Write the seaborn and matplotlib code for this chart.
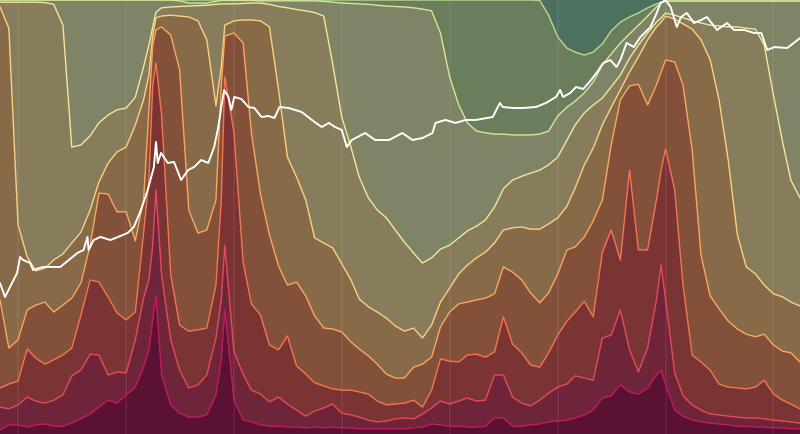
import numpy as np
import pandas as pd
import matplotlib
matplotlib.use("Agg")
import matplotlib.pyplot as plt
import seaborn as sns

# ---- dates: month starts plus a few extra readings around the peaks ----
monthly = pd.date_range("2011-11-01", "2019-04-01", freq="MS")
extra = pd.to_datetime(["2013-03-19", "2013-04-12", "2013-11-19", "2017-12-17"])
dates = monthly.append(extra).sort_values()

# ---- realized-cap share (%) OLDER than each age threshold ----
older_3y = [0] * 60 + [
    0, 0, 0, 0.1, 3.5, 8.5, 11.1, 12.0, 12.7, 12.0,
    10.1, 7.1, 5.1, 3.9, 3.0, 1.8, 0.9, 0.5, 0.2, 0.2,
    0.2, 0.2, 0.2, 0.2, 0.2, 0.2, 0.2, 0.2, 0.2, 0.2,
    0.2, 0.2, 0.2, 0.2]
older_2y = [0] * 20 + [
    0, 0, 0.2, 0.7, 0.7, 0.7, 0.3, 0.1, 0.1, 0.1,
    0.1, 0.1, 0.2, 0.2, 0.2, 0.2, 0.2, 0.2, 0.2, 0.3,
    0.5, 0.7, 0.8, 0.9, 1.0, 1.2, 1.4, 1.5, 1.6, 1.8,
    2.1, 2.5, 7.6, 17.7, 24.2, 28.3, 30.2, 30.6, 30.9, 30.9,
    31.1, 31.1, 31.1, 30.9, 30.2, 26.7, 24.7, 23.3, 21.4, 18.9,
    15.0, 12.4, 9.9, 7.8, 5.8, 3.7, 1.6, 0.7, 0.3, 0.25,
    0.25, 0.25, 0.25, 0.25, 0.25, 0.25, 0.25, 0.25, 0.25, 0.25,
    0.25, 0.25, 0.25, 0.25]
older_1y = [
    0.5, 0.5, 0.5, 0.5, 0.5, 0.6, 1.0, 5.8, 33.9, 33.4,
    31.3, 28.3, 26.5, 25.3, 24.9, 22.4, 15.4, 10.4, 6.2, 2.8,
    1.8, 1.6, 1.5, 1.4, 1.3, 1.2, 1.0, 0.9, 0.9, 0.9,
    0.8, 0.7, 0.7, 1.0, 1.5, 1.8, 2.2, 2.5, 2.9, 3.7,
    14.7, 27.0, 33.9, 40.8, 45.6, 48.4, 50.2, 53.0, 55.8, 58.3,
    60.6, 59.4, 57.4, 56.5, 54.8, 53.2, 52.1, 50.7, 47.7, 43.5,
    41.5, 40.6, 39.9, 39.2, 38.0, 36.2, 32.3, 28.8, 26.0, 24.2,
    22.6, 20.0, 17.3, 13.4, 10.4, 7.6, 5.1, 4.1, 3.0, 3.5,
    4.1, 4.8, 5.3, 5.8, 6.0, 6.2, 6.2, 6.5, 6.7, 10.4,
    21.9, 32.7, 41.5, 45.6]
older_6m = [
    1.6, 6.5, 51.8, 59.2, 62.4, 61.8, 59.9, 58.5, 56.0, 53.5,
    48.4, 41.9, 37.6, 35.0, 33.9, 28.8, 23.0, 17.3, 8.1, 4.1,
    3.7, 3.5, 3.7, 3.9, 4.8, 9.2, 24.4, 15.4, 5.8, 4.8,
    4.6, 4.6, 4.8, 6.2, 20.7, 36.2, 40.8, 46.1, 54.8, 56.0,
    57.1, 60.8, 64.5, 68.9, 70.7, 71.9, 73.3, 75.1, 76.3, 75.6,
    77.9, 74.9, 69.6, 66.4, 63.1, 61.1, 59.4, 58.1, 56.0, 53.0,
    52.5, 52.3, 52.8, 52.8, 51.6, 50.2, 47.5, 43.3, 38.0, 34.1,
    28.8, 24.7, 20.7, 16.6, 13.1, 9.2, 6.2, 5.1, 3.7, 4.4,
    5.5, 6.7, 9.2, 13.8, 23.0, 36.9, 54.1, 61.5, 63.1, 65.7,
    67.7, 68.4, 69.6, 70.5]
older_3m = [
    69.1, 80.2, 78.3, 71.4, 70.3, 69.6, 71.9, 70.3, 68.7, 65.2,
    56.5, 44.5, 44.7, 48.8, 48.8, 55.5, 46.1, 25.3, 10.4, 6.9,
    6.2, 8.1, 16.1, 48.4, 53.7, 53.0, 46.1, 19.6, 8.3, 7.6,
    9.9, 30.6, 44.9, 54.1, 61.3, 65.7, 65.0, 68.2, 72.8, 75.6,
    75.8, 76.5, 78.8, 80.4, 82.0, 83.9, 86.2, 87.1, 87.1, 84.6,
    83.9, 82.3, 75.3, 71.9, 70.0, 69.6, 69.1, 68.7, 67.7, 61.5,
    62.7, 64.5, 67.5, 69.8, 67.5, 63.1, 57.6, 56.9, 54.6, 50.9,
    46.1, 33.4, 23.0, 19.8, 19.4, 24.2, 19.6, 16.6, 13.8, 14.3,
    19.6, 34.6, 58.8, 68.2, 71.2, 74.0, 75.8, 77.0, 77.6, 77.0,
    79.5, 80.9, 81.3, 83.4]
older_1m = [
    89.4, 88.5, 87.8, 80.4, 82.5, 83.9, 82.9, 81.8, 80.2, 72.6,
    64.5, 65.0, 68.4, 72.1, 73.7, 71.9, 53.7, 41.5, 19.6, 14.5,
    26.5, 63.4, 74.9, 76.3, 76.0, 75.6, 65.7, 46.1, 17.7, 30.6,
    60.4, 70.0, 72.6, 79.5, 80.6, 77.4, 84.3, 86.2, 88.2, 88.9,
    89.6, 89.9, 89.9, 90.3, 90.8, 92.4, 93.3, 93.1, 92.9, 92.2,
    93.8, 89.9, 82.7, 83.2, 83.4, 81.8, 81.6, 82.3, 81.1, 73.0,
    79.3, 81.3, 84.1, 84.6, 81.3, 77.2, 74.0, 71.9, 69.4, 73.0,
    58.1, 53.0, 59.9, 39.2, 57.6, 57.6, 46.1, 39.2, 34.3, 43.8,
    65.7, 81.8, 83.4, 85.3, 88.5, 89.2, 89.4, 89.6, 89.2, 87.6,
    90.8, 92.2, 93.1, 94.2]
older_1w = [
    93.8, 94.2, 93.3, 91.5, 92.4, 92.9, 92.2, 91.0, 86.6, 85.3,
    81.6, 81.8, 86.4, 85.7, 85.9, 78.3, 68.7, 64.5, 56.5, 43.8,
    63.4, 78.3, 85.3, 89.4, 88.7, 86.4, 77.9, 69.1, 56.5, 81.1,
    86.2, 89.9, 90.8, 92.6, 91.5, 93.1, 94.5, 95.9, 94.7, 94.0,
    93.1, 95.2, 95.6, 96.1, 96.8, 97.2, 97.0, 96.5, 96.3, 96.5,
    95.4, 94.0, 92.4, 93.1, 92.4, 91.7, 92.4, 92.2, 86.4, 86.4,
    91.5, 92.9, 93.5, 92.2, 90.6, 89.2, 88.5, 86.6, 87.1, 87.6,
    77.9, 77.2, 71.4, 80.6, 85.7, 80.2, 69.1, 61.1, 69.1, 85.9,
    91.2, 93.3, 94.5, 95.4, 95.6, 95.9, 96.1, 96.3, 96.3, 96.5,
    96.8, 97.0, 97.2, 97.5]
older_1d = [
    99.1, 97.9, 97.9, 98.4, 97.9, 97.7, 98.2, 98.2, 97.5, 96.5,
    95.4, 93.8, 92.2, 92.9, 91.0, 89.2, 84.6, 80.6, 73.7, 68.0,
    86.4, 93.3, 95.2, 96.1, 96.1, 95.6, 91.0, 82.9, 71.4, 92.2,
    96.8, 97.2, 97.9, 98.2, 98.2, 98.4, 98.4, 98.6, 98.4, 98.6,
    98.4, 98.6, 98.6, 98.8, 98.8, 98.8, 98.8, 98.8, 98.8, 98.6,
    98.4, 97.7, 97.9, 98.2, 98.2, 98.4, 98.4, 98.2, 96.3, 96.3,
    98.2, 98.2, 97.9, 97.7, 97.2, 97.0, 96.8, 96.3, 95.6, 94.5,
    91.7, 91.2, 88.7, 90.3, 90.8, 89.4, 86.4, 85.3, 88.7, 94.5,
    95.9, 96.8, 97.2, 97.5, 97.7, 97.9, 98.2, 98.2, 98.4, 98.4,
    98.6, 98.6, 98.8, 98.8]

# ---- BTC price (USD, log scale), read at days since 2011-11-01 ----
price_day = [
    0, 17, 34, 58, 68, 78, 102, 112, 146, 204,
    262, 283, 296, 300, 317, 340, 374, 432, 453, 477,
    500, 521, 528, 534, 545, 568, 589, 613, 637, 657,
    681, 705, 725, 739, 749, 759, 773, 783, 793, 817,
    841, 861, 885, 909, 929, 946, 977, 1021, 1065, 1089,
    1113, 1134, 1157, 1174, 1191, 1236, 1270, 1317, 1362, 1396,
    1430, 1464, 1474, 1508, 1542, 1576, 1610, 1668, 1692, 1702,
    1736, 1770, 1814, 1848, 1882, 1896, 1906, 1930, 1950, 1974,
    1998, 2019, 2042, 2066, 2087, 2100, 2121, 2145, 2168, 2202,
    2223, 2236, 2253, 2270, 2291, 2305, 2325, 2349, 2373, 2393,
    2427, 2461, 2485, 2519, 2553, 2577, 2597, 2621, 2665, 2713]
price_usd = [
    3.21, 2.09, 2.84, 4.37, 7.13, 6.51, 5.93, 4.79, 5.25, 5.25,
    8.07, 8.85, 13.2, 8.85, 12.0, 13.2, 12.0, 14.9, 17.9, 30.2,
    55.8, 113, 244, 128, 174, 128, 132, 75.9, 103, 113,
    140, 128, 209, 386, 713, 1202, 970, 651, 970, 912,
    713, 692, 525, 541, 509, 713, 692, 612, 450, 386,
    437, 386, 352, 209, 259, 321, 259, 259, 321, 259,
    275, 321, 437, 479, 437, 479, 479, 525, 807, 713,
    692, 692, 713, 807, 970, 1202, 970, 1096, 1318, 1239,
    1585, 2028, 2754, 3020, 2438, 3020, 5093, 4498, 6124, 8318,
    12790, 17380, 19055, 15380, 8318, 11300, 12790, 9397, 10300, 11300,
    7586, 9397, 7586, 7586, 6918, 6918, 4104, 4487, 4365, 6124]

bands = ["3y", "2y", "1y", "6m", "3m", "1m", "1w", "1d"]
bounds = [older_3y, older_2y, older_1y, older_6m, older_3m, older_1m, older_1w, older_1d]
n = len(dates)
df = pd.DataFrame({"date": dates})
for name, b in zip(bands, bounds):
    df[name] = b
pf = pd.DataFrame({
    "date": pd.Timestamp("2011-11-01") + pd.to_timedelta(price_day, unit="D"),
    "price": price_usd,
})

sns.set_theme(style="white")
fig = plt.figure(figsize=(8, 4.34), dpi=100)
ax = fig.add_axes([0, 0, 1, 1])

fill_colors = ["#4d705f", "#6a7d5c", "#7f8466", "#877d5c", "#876a48",
               "#83503a", "#7b3434", "#6f2539", "#5b1134"]
line_colors = ["#b5d98e", "#d5e59a", "#f3e59a", "#fbd07e", "#fca55e",
               "#f47452", "#e3495d", "#c01a5c"]

edges = [np.zeros(n)] + [df[b].to_numpy(dtype=float) for b in bands] + [np.full(n, 100.0)]
for i in range(len(fill_colors)):
    ax.fill_between(df["date"], edges[i], edges[i + 1], color=fill_colors[i], lw=0)

for yr in range(2012, 2020):
    ax.axvline(pd.Timestamp(f"{yr}-01-01"), color="white", alpha=0.07, lw=1.2)

for name, c in zip(bands, line_colors):
    sns.lineplot(data=df, x="date", y=name, color=c, lw=1.0, ax=ax, estimator=None)

x0, x1 = df["date"].iloc[0], df["date"].iloc[-1]
ax.set_ylim(100, 0)
ax.set_xlim(x0, x1)
ax.axis("off")

ax2 = ax.twinx()
sns.lineplot(data=pf, x="date", y="price", color="white", lw=1.4, ax=ax2, estimator=None)
ax2.set_yscale("log")
ax2.set_ylim(10 ** -1.507, 10 ** 4.28)
ax2.set_xlim(x0, x1)
ax2.axis("off")

fig.savefig("out.png", dpi=100)
